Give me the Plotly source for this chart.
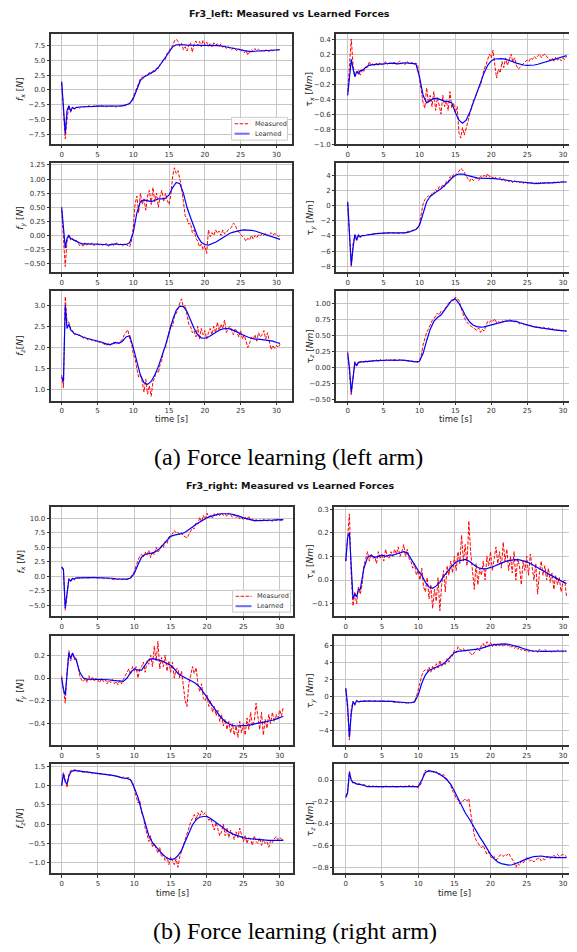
import numpy as np
import plotly.graph_objects as go

# The page body has an 8px default margin, so the figure is sized to the visible area
OFF = 8
W, H = 577 - OFF, 952 - OFF


def px_x(p):
    return (p - OFF) / W


def px_y(p):
    return 1 - (p - OFF) / H


# time grids (s)
t_meas = np.round(np.arange(0, 30.5001, 0.25), 2)
t_learn = np.round(np.concatenate([np.arange(0, 2.0001, 0.25), np.arange(2.5, 30.5001, 0.5)]), 2)

# ---------------- Fr3_left ----------------
left_fx_meas = [
    1.2, -3.0, -8.3, -5.0, -2.7, -3.8, -2.9, -3.3, -3.0, -2.9, -3.1, -2.8,
    -2.9, -2.8, -2.9, -2.7, -2.8, -2.9, -2.7, -2.8, -2.7, -2.8, -2.6, -2.8,
    -2.7, -2.9, -2.7, -2.8, -2.8, -2.7, -2.9, -2.8, -2.8, -2.7, -2.6, -2.7,
    -2.5, -2.4, -2.3, -2.0, -1.2, -0.2, 0.6, 1.2, 1.9, 2.2, 2.0, 2.5,
    2.4, 3.0, 2.7, 3.4, 3.1, 3.7, 3.6, 4.3, 4.6, 5.3, 5.2, 6.3,
    6.6, 7.2, 7.4, 8.3, 8.6, 8.2, 7.4, 7.9, 6.8, 7.3, 6.6, 7.6,
    8.0, 6.4, 7.8, 8.3, 7.5, 8.2, 7.3, 8.4, 7.7, 8.1, 7.4, 7.9,
    7.3, 8.0, 7.6, 7.8, 7.4, 7.8, 7.2, 7.5, 7.0, 7.3, 7.1, 6.8,
    7.2, 6.9, 6.6, 7.0, 6.5, 6.8, 6.3, 6.7, 5.9, 6.4, 6.8, 6.5,
    7.0, 6.6, 6.9, 6.5, 6.7, 6.4, 6.8, 6.6, 6.5, 6.9, 6.6, 6.8,
    6.7, 6.8, 6.8]
left_fx_learn = [
    1.4, -2.5, -7.4, -3.5, -2.7, -3.6, -3.0, -3.2, -3.0,
    -2.9, -2.9, -2.85, -2.8, -2.8, -2.75, -2.75, -2.75, -2.8, -2.8,
    -2.8, -2.8, -2.7, -2.55, -2.3, -1.5, 0.2, 1.6, 2.2, 2.5,
    2.8, 3.2, 3.8, 4.7, 5.7, 6.6, 7.3, 7.65, 7.7, 7.65,
    7.6, 7.6, 7.55, 7.55, 7.6, 7.6, 7.6, 7.6, 7.6, 7.5,
    7.4, 7.3, 7.2, 7.05, 6.9, 6.8, 6.65, 6.55, 6.5, 6.55,
    6.6, 6.65, 6.7, 6.7, 6.75, 6.75, 6.8]

left_tx_meas = [
    -0.3, 0.1, 0.4, 0.05, -0.1, -0.05, -0.02, -0.08, 0.0, -0.03, 0.03, 0.02,
    0.1, 0.05, 0.07, 0.04, 0.08, 0.05, 0.09, 0.06, 0.07, 0.1, 0.06, 0.08,
    0.09, 0.07, 0.1, 0.06, 0.08, 0.11, 0.07, 0.09, 0.06, 0.1, 0.08, 0.07,
    0.09, 0.06, 0.08, 0.05, -0.12, -0.3, -0.45, -0.52, -0.25, -0.45, -0.35, -0.5,
    -0.3, -0.55, -0.38, -0.48, -0.6, -0.35, -0.5, -0.42, -0.55, -0.3, -0.52, -0.45,
    -0.58, -0.5, -0.85, -0.92, -0.78, -0.88, -0.8, -0.7, -0.6, -0.5, -0.42, -0.38,
    -0.3, -0.25, -0.22, -0.1, 0.0, 0.05, 0.12, 0.2, 0.15, 0.25, 0.05, -0.12,
    0.0, -0.05, 0.1, 0.02, 0.15, 0.05, 0.12, 0.2, 0.1, 0.15, 0.05, 0.0,
    0.02, 0.05, 0.08, 0.1, 0.12, 0.1, 0.15, 0.13, 0.17, 0.14, 0.18, 0.2,
    0.15, 0.19, 0.2, 0.16, 0.13, 0.12, 0.15, 0.1, 0.16, 0.12, 0.14, 0.11,
    0.15, 0.13, 0.17]
left_tx_learn = [
    -0.35, -0.1, 0.13, 0.0, -0.1, -0.03, -0.06, -0.02, -0.02,
    0.02, 0.05, 0.06, 0.06, 0.065, 0.07, 0.075, 0.08, 0.08, 0.07,
    0.08, 0.085, 0.08, 0.08, 0.07, -0.1, -0.35, -0.45, -0.42, -0.39,
    -0.39, -0.41, -0.43, -0.43, -0.45, -0.58, -0.68, -0.72, -0.68, -0.58,
    -0.45, -0.32, -0.18, -0.05, 0.05, 0.11, 0.135, 0.14, 0.14, 0.13,
    0.12, 0.1, 0.08, 0.065, 0.055, 0.05, 0.05, 0.055, 0.065, 0.08,
    0.095, 0.11, 0.125, 0.14, 0.155, 0.17, 0.18]

left_fy_meas = [
    0.45, -0.1, -0.55, -0.1, 0.0, -0.08, -0.05, -0.1, -0.08, -0.12, -0.18, -0.14,
    -0.2, -0.13, -0.17, -0.14, -0.16, -0.13, -0.18, -0.15, -0.14, -0.17, -0.15, -0.18,
    -0.16, -0.14, -0.19, -0.17, -0.14, -0.18, -0.15, -0.13, -0.17, -0.15, -0.19, -0.14,
    -0.16, -0.18, -0.2, -0.1, 0.15, 0.55, 0.7, 0.4, 0.75, 0.55, 0.65, 0.45,
    0.7, 0.8, 0.55, 0.85, 0.6, 0.75, 0.5, 0.7, 0.8, 0.6, 0.75, 0.62,
    0.55, 0.72, 1.05, 1.2, 1.1, 1.15, 1.0, 0.85, 0.6, 0.35, 0.3, 0.2,
    0.22, 0.05, 0.1, -0.05, -0.1, -0.2, -0.15, -0.25, -0.18, -0.32, 0.1, -0.02,
    0.05, 0.0, 0.1, 0.04, 0.08, 0.0, 0.1, 0.03, 0.05, 0.1, 0.12, 0.15,
    0.22, 0.18, 0.1, 0.05, 0.02, -0.02, -0.05, -0.1, -0.05, -0.08, 0.0, -0.06,
    0.0, -0.04, 0.02, 0.0, 0.03, 0.0, 0.04, -0.01, 0.02, 0.05, 0.01, 0.03,
    0.02, -0.02, 0.0]
left_fy_learn = [
    0.5, 0.1, -0.22, -0.05, 0.0, -0.05, -0.07, -0.08, -0.1,
    -0.13, -0.15, -0.15, -0.15, -0.15, -0.15, -0.15, -0.16, -0.17, -0.16,
    -0.15, -0.16, -0.16, -0.16, -0.13, 0.05, 0.4, 0.6, 0.63, 0.62,
    0.6, 0.62, 0.65, 0.65, 0.66, 0.72, 0.85, 0.94, 0.92, 0.75,
    0.5, 0.32, 0.15, -0.02, -0.12, -0.16, -0.17, -0.15, -0.12, -0.08,
    -0.04, 0.0, 0.04, 0.06, 0.08, 0.09, 0.1, 0.1, 0.09, 0.08,
    0.06, 0.04, 0.02, 0.0, -0.03, -0.05, -0.07]

left_ty_meas = [
    0.3, -4.0, -8.1, -5.0, -3.9, -4.6, -3.8, -4.2, -3.9, -4.0, -3.85, -3.8,
    -3.8, -3.75, -3.8, -3.7, -3.7, -3.65, -3.7, -3.6, -3.6, -3.65, -3.6, -3.55,
    -3.6, -3.55, -3.65, -3.6, -3.6, -3.65, -3.55, -3.6, -3.55, -3.5, -3.4, -3.3,
    -3.3, -3.2, -3.1, -3.0, -2.4, -1.2, 0.2, 0.8, 1.0, 1.3, 1.1, 1.7,
    1.6, 2.1, 1.9, 2.5, 2.3, 2.8, 2.5, 3.2, 3.0, 3.8, 3.6, 4.1,
    3.9, 4.3, 4.5, 4.9, 4.7, 4.4, 3.9, 3.5, 3.2, 3.6, 3.3, 3.5,
    3.7, 3.3, 3.9, 3.6, 4.0, 3.7, 4.2, 3.8, 3.9, 3.6, 3.8, 3.5,
    3.4, 3.7, 3.3, 3.6, 3.2, 3.4, 3.1, 3.3, 3.0, 3.3, 3.1, 3.2,
    3.0, 3.2, 2.9, 3.1, 3.0, 2.85, 3.0, 2.9, 2.8, 2.95, 3.1, 2.9,
    3.1, 2.95, 3.0, 3.05, 2.95, 3.05, 3.0, 3.1, 3.0, 3.1, 3.0, 3.15,
    3.1, 3.05, 3.1]
left_ty_learn = [
    0.5, -3.5, -7.8, -5.5, -3.8, -4.5, -3.9, -4.1, -3.95,
    -3.9, -3.8, -3.75, -3.7, -3.65, -3.6, -3.6, -3.6, -3.6, -3.6,
    -3.6, -3.6, -3.5, -3.35, -3.15, -2.6, -1.0, 0.5, 1.2, 1.6,
    1.9, 2.2, 2.6, 3.1, 3.6, 4.0, 4.15, 4.15, 4.0, 3.85,
    3.7, 3.65, 3.6, 3.6, 3.6, 3.6, 3.55, 3.5, 3.45, 3.4,
    3.3, 3.2, 3.15, 3.1, 3.05, 3.0, 2.95, 2.9, 2.9, 2.95,
    3.0, 3.0, 3.0, 3.05, 3.05, 3.1, 3.1]

left_fz_meas = [
    1.35, 1.05, 3.2, 2.6, 2.6, 2.45, 2.4, 2.3, 2.32, 2.28, 2.3, 2.25,
    2.22, 2.25, 2.2, 2.18, 2.2, 2.16, 2.18, 2.14, 2.15, 2.12, 2.14, 2.1,
    2.08, 2.05, 2.1, 2.05, 2.1, 2.13, 2.08, 2.12, 2.1, 2.15, 2.2, 2.3,
    2.35, 2.42, 2.2, 2.1, 1.85, 1.75, 1.5, 1.3, 1.35, 1.2, 0.95, 1.25,
    0.9, 1.1, 0.85, 1.2, 1.3, 1.45, 1.4, 1.6, 1.7, 1.95, 2.0, 2.2,
    2.4, 2.55, 2.5, 2.75, 2.8, 2.95, 3.05, 3.15, 2.95, 3.0, 2.8, 2.55,
    2.5, 2.35, 2.4, 2.25, 2.5, 2.2, 2.45, 2.3, 2.4, 2.2, 2.35, 2.45,
    2.3, 2.5, 2.35, 2.6, 2.4, 2.55, 2.45, 2.65, 2.35, 2.45, 2.5, 2.4,
    2.3, 2.45, 2.35, 2.25, 2.4, 2.2, 2.3, 2.15, 2.0, 2.1, 2.25, 2.2,
    2.3, 2.15, 2.35, 2.25, 2.3, 2.4, 2.2, 2.35, 2.1, 1.95, 2.05, 1.98,
    2.05, 2.0, 2.08]
left_fz_learn = [
    1.3, 1.2, 3.0, 2.45, 2.55, 2.42, 2.38, 2.33, 2.32,
    2.28, 2.25, 2.22, 2.2, 2.17, 2.15, 2.13, 2.1, 2.07, 2.08,
    2.12, 2.1, 2.15, 2.25, 2.28, 2.0, 1.65, 1.35, 1.17, 1.13,
    1.2, 1.35, 1.55, 1.78, 2.05, 2.35, 2.65, 2.88, 2.98, 2.97,
    2.85, 2.65, 2.45, 2.3, 2.23, 2.22, 2.25, 2.3, 2.36, 2.41,
    2.44, 2.45, 2.44, 2.41, 2.37, 2.32, 2.28, 2.25, 2.22, 2.2,
    2.2, 2.19, 2.18, 2.17, 2.15, 2.12, 2.1]

left_tz_meas = [
    0.25, -0.05, -0.43, -0.15, 0.1, 0.02, 0.1, 0.08, 0.1, 0.08, 0.11, 0.09,
    0.1, 0.12, 0.1, 0.11, 0.12, 0.1, 0.13, 0.11, 0.12, 0.11, 0.13, 0.11,
    0.12, 0.11, 0.13, 0.12, 0.11, 0.13, 0.12, 0.11, 0.12, 0.11, 0.1, 0.11,
    0.1, 0.09, 0.1, 0.08, 0.1, 0.2, 0.35, 0.45, 0.55, 0.6, 0.68, 0.73,
    0.76, 0.8, 0.85, 0.82, 0.88, 0.86, 0.92, 0.95, 1.0, 1.02, 1.05, 1.04,
    1.1, 1.07, 1.05, 0.95, 0.85, 0.78, 0.72, 0.68, 0.66, 0.64, 0.62, 0.6,
    0.58, 0.62, 0.55, 0.6, 0.57, 0.65, 0.72, 0.7, 0.74, 0.72, 0.76, 0.7,
    0.72, 0.7, 0.73, 0.71, 0.74, 0.72, 0.75, 0.73, 0.74, 0.71, 0.72, 0.7,
    0.68, 0.7, 0.67, 0.66, 0.67, 0.65, 0.66, 0.64, 0.63, 0.64, 0.62, 0.63,
    0.61, 0.63, 0.61, 0.6, 0.62, 0.6, 0.61, 0.59, 0.6, 0.58, 0.59, 0.57,
    0.58, 0.57, 0.57]
left_tz_learn = [
    0.22, 0.0, -0.38, -0.1, 0.08, 0.03, 0.08, 0.09, 0.09,
    0.1, 0.1, 0.105, 0.11, 0.11, 0.11, 0.115, 0.12, 0.115, 0.12,
    0.12, 0.115, 0.11, 0.105, 0.09, 0.1, 0.22, 0.42, 0.6, 0.72,
    0.78, 0.82, 0.9, 0.98, 1.05, 1.07, 1.0, 0.9, 0.79, 0.71,
    0.66, 0.64, 0.63, 0.635, 0.65, 0.665, 0.685, 0.7, 0.715, 0.725,
    0.73, 0.73, 0.72, 0.7, 0.68, 0.665, 0.65, 0.635, 0.625, 0.615,
    0.605, 0.6, 0.595, 0.585, 0.58, 0.575, 0.57]

# ---------------- Fr3_right ----------------
right_fx_meas = [
    1.5, 1.0, -5.9, -2.5, -0.4, -1.0, -0.3, -0.6, -0.2, -0.35, -0.3, -0.25,
    -0.3, -0.2, -0.3, -0.25, -0.3, -0.25, -0.2, -0.3, -0.25, -0.3, -0.25, -0.35,
    -0.3, -0.35, -0.4, -0.45, -0.5, -0.6, -0.5, -0.55, -0.45, -0.6, -0.5, -0.55,
    -0.6, -0.4, -0.2, 0.3, 0.8, 1.8, 2.8, 3.5, 3.8, 3.3, 4.2, 3.6,
    4.5, 3.2, 4.3, 3.7, 5.0, 4.2, 4.6, 5.3, 5.0, 6.0, 5.6, 6.8,
    7.0, 7.3, 7.9, 7.5, 7.6, 7.2, 7.5, 7.0, 6.8, 6.6, 7.2, 7.8,
    8.4, 8.2, 9.3, 9.0, 10.2, 9.4, 10.5, 9.8, 10.9, 10.2, 10.6, 10.1,
    10.8, 10.4, 10.9, 10.5, 11.0, 10.5, 10.8, 10.3, 10.9, 10.6, 10.2, 10.7,
    10.1, 10.5, 9.9, 10.3, 9.7, 10.2, 9.8, 10.4, 9.6, 9.9, 9.5, 9.8,
    9.6, 9.7, 9.5, 9.8, 9.6, 9.5, 9.8, 9.6, 9.5, 9.8, 9.6, 9.9,
    9.7, 9.6, 9.8]
right_fx_learn = [
    1.6, 1.2, -5.5, -3.0, -0.5, -0.8, -0.4, -0.5, -0.3,
    -0.3, -0.25, -0.25, -0.25, -0.25, -0.25, -0.25, -0.3, -0.3, -0.35,
    -0.45, -0.5, -0.5, -0.5, -0.3, 0.5, 2.0, 3.3, 3.8, 3.9,
    4.0, 4.3, 4.8, 5.5, 6.3, 6.9, 7.1, 7.2, 7.35, 7.6,
    8.0, 8.5, 9.0, 9.4, 9.8, 10.1, 10.35, 10.55, 10.7, 10.8,
    10.85, 10.8, 10.7, 10.55, 10.35, 10.1, 9.9, 9.7, 9.6, 9.6,
    9.6, 9.65, 9.65, 9.7, 9.75, 9.8, 9.8]

right_tx_meas = [
    0.08, 0.2, 0.28, 0.02, -0.11, -0.05, -0.1, -0.03, -0.06, -0.02, 0.06, 0.09,
    0.12, 0.08, 0.11, 0.09, 0.1, 0.07, 0.12, 0.09, 0.11, 0.08, 0.13, 0.1,
    0.09, 0.12, 0.1, 0.13, 0.11, 0.14, 0.1, 0.12, 0.15, 0.1, 0.13, 0.09,
    0.08, 0.05, 0.07, 0.02, 0.04, 0.0, 0.05, -0.03, -0.05, 0.01, -0.08, -0.02,
    -0.12, -0.04, -0.09, 0.01, -0.13, -0.02, 0.04, -0.05, 0.06, 0.02, 0.08, 0.03,
    0.1, 0.04, 0.12, 0.07, 0.19, 0.08, 0.15, 0.06, 0.25, 0.12, 0.02, -0.04,
    0.07, -0.02, 0.05, 0.02, 0.08, 0.0, 0.1, 0.06, 0.12, 0.04, 0.09, 0.14,
    0.07, 0.12, 0.05, 0.16, 0.08, 0.13, 0.04, 0.1, 0.03, 0.12, 0.0, 0.09,
    0.06, -0.02, 0.08, 0.04, 0.1, 0.02, 0.11, 0.05, 0.0, 0.07, -0.06, 0.03,
    0.08, 0.02, 0.06, 0.0, 0.05, -0.01, 0.03, -0.04, 0.02, -0.02, 0.01, -0.05,
    -0.01, 0.0, -0.07]
right_tx_learn = [
    0.08, 0.18, 0.2, 0.05, -0.08, -0.06, -0.07, -0.04, -0.04,
    0.05, 0.095, 0.105, 0.095, 0.1, 0.105, 0.1, 0.105, 0.105, 0.11,
    0.115, 0.12, 0.115, 0.09, 0.06, 0.04, 0.02, -0.01, -0.03, -0.035,
    -0.025, -0.01, 0.015, 0.035, 0.055, 0.07, 0.08, 0.085, 0.087, 0.08,
    0.068, 0.057, 0.05, 0.047, 0.048, 0.052, 0.058, 0.065, 0.072, 0.078,
    0.082, 0.085, 0.086, 0.085, 0.082, 0.077, 0.07, 0.062, 0.053, 0.044,
    0.035, 0.026, 0.017, 0.008, 0.0, -0.008, -0.015]

right_fy_meas = [
    0.02, -0.1, -0.22, 0.05, 0.24, 0.15, 0.22, 0.16, 0.18, 0.1, 0.02, -0.02,
    -0.03, 0.0, -0.04, 0.02, -0.02, 0.01, -0.03, 0.0, -0.02, -0.04, 0.0, -0.03,
    -0.01, -0.05, -0.02, -0.04, -0.01, -0.05, -0.03, -0.06, -0.02, -0.05, -0.01, 0.02,
    0.05, 0.08, 0.03, 0.1, 0.06, 0.1, 0.0, 0.08, 0.1, 0.14, 0.05, 0.15,
    0.12, 0.2, 0.1, 0.28, 0.15, 0.32, 0.08, 0.18, 0.1, 0.2, 0.06, 0.15,
    0.05, 0.14, 0.0, 0.08, 0.08, 0.0, 0.06, -0.08, -0.2, -0.25, -0.05, 0.02,
    0.1, 0.04, 0.09, -0.05, -0.12, -0.05, -0.18, -0.2, -0.15, -0.25, -0.2, -0.3,
    -0.25, -0.33, -0.28, -0.38, -0.32, -0.42, -0.36, -0.45, -0.38, -0.48, -0.4, -0.5,
    -0.42, -0.52, -0.38, -0.48, -0.4, -0.5, -0.35, -0.45, -0.3, -0.42, -0.38, -0.22,
    -0.35, -0.45, -0.3, -0.5, -0.36, -0.44, -0.32, -0.4, -0.3, -0.38, -0.32, -0.36,
    -0.28, -0.33, -0.25]
right_fy_learn = [
    0.0, -0.1, -0.15, 0.05, 0.22, 0.17, 0.22, 0.18, 0.16,
    0.05, 0.0, -0.01, -0.01, -0.01, -0.01, -0.01, -0.015, -0.015, -0.02,
    -0.025, -0.03, -0.03, 0.0, 0.05, 0.08, 0.07, 0.07, 0.12, 0.16,
    0.17, 0.165, 0.155, 0.145, 0.13, 0.11, 0.08, 0.04, 0.02, 0.0,
    -0.015, -0.03, -0.05, -0.08, -0.12, -0.17, -0.22, -0.27, -0.31, -0.35,
    -0.38, -0.4, -0.415, -0.42, -0.42, -0.42, -0.415, -0.41, -0.4, -0.395,
    -0.39, -0.385, -0.38, -0.37, -0.36, -0.345, -0.335]

right_ty_meas = [
    1.0, -1.5, -5.1, -1.5, -0.5, -1.0, -0.4, -0.7, -0.5, -0.6, -0.45, -0.5,
    -0.55, -0.45, -0.5, -0.55, -0.5, -0.45, -0.55, -0.5, -0.45, -0.5, -0.55, -0.5,
    -0.5, -0.55, -0.6, -0.65, -0.7, -0.6, -0.75, -0.7, -0.65, -0.8, -0.7, -0.75,
    -0.7, -0.65, -0.5, 0.0, 0.8, 1.8, 2.5, 3.0, 3.2, 3.0, 3.5, 2.9,
    3.6, 3.2, 3.9, 3.4, 4.3, 3.6, 4.0, 3.8, 4.5, 4.1, 5.0, 4.8,
    5.5, 5.2, 5.9, 5.6, 5.5, 5.7, 5.3, 5.5, 5.4, 5.1, 4.9, 5.2,
    5.5, 5.8, 5.4, 6.1, 6.3, 5.8, 6.5, 6.0, 6.4, 5.9, 6.3, 6.0,
    6.2, 6.0, 6.3, 5.9, 6.2, 6.0, 6.1, 5.8, 6.0, 5.7, 5.9, 5.6,
    5.8, 5.5, 5.7, 5.4, 5.5, 5.3, 5.5, 5.4, 5.3, 5.5, 5.2, 5.6,
    5.5, 5.3, 5.6, 5.4, 5.3, 5.4, 5.2, 5.4, 5.3, 5.5, 5.3, 5.4,
    5.3, 5.4, 5.3]
right_ty_learn = [
    1.0, -1.0, -4.8, -2.0, -0.6, -0.9, -0.45, -0.6, -0.55,
    -0.5, -0.5, -0.5, -0.5, -0.5, -0.5, -0.5, -0.5, -0.55, -0.6,
    -0.65, -0.7, -0.7, -0.7, -0.6, 0.2, 1.6, 2.6, 3.1, 3.3,
    3.5, 3.65, 3.9, 4.3, 4.8, 5.2, 5.35, 5.4, 5.45, 5.5,
    5.5, 5.55, 5.65, 5.8, 5.95, 6.05, 6.15, 6.2, 6.25, 6.25,
    6.2, 6.1, 6.0, 5.85, 5.7, 5.55, 5.45, 5.4, 5.35, 5.35,
    5.35, 5.35, 5.35, 5.35, 5.35, 5.4, 5.4]

right_fz_meas = [
    1.0, 1.35, 1.15, 0.95, 1.3, 1.4, 1.38, 1.42, 1.4, 1.37, 1.39, 1.35,
    1.36, 1.34, 1.37, 1.33, 1.35, 1.32, 1.34, 1.31, 1.33, 1.3, 1.32, 1.29,
    1.3, 1.28, 1.27, 1.29, 1.26, 1.27, 1.24, 1.25, 1.22, 1.2, 1.23, 1.19,
    1.2, 1.22, 1.15, 1.1, 0.9, 0.75, 0.55, 0.62, 0.3, 0.2, -0.1, -0.25,
    -0.45, -0.3, -0.6, -0.5, -0.65, -0.75, -0.6, -0.85, -0.8, -0.95, -0.85, -1.05,
    -0.85, -0.95, -1.05, -0.9, -1.12, -0.85, -0.7, -0.5, -0.35, -0.25, -0.1, 0.05,
    0.15, 0.25, 0.1, 0.3, 0.2, 0.35, 0.25, 0.3, 0.2, 0.1, 0.15, 0.0,
    -0.15, 0.05, -0.1, -0.3, -0.2, 0.0, -0.3, -0.1, -0.35, -0.15, -0.25, -0.4,
    -0.2, -0.35, -0.1, -0.3, -0.45, -0.3, -0.5, -0.35, -0.4, -0.55, -0.3, -0.45,
    -0.5, -0.35, -0.55, -0.4, -0.5, -0.45, -0.6, -0.42, -0.48, -0.38, -0.32, -0.4,
    -0.35, -0.38, -0.42]
right_fz_learn = [
    1.0, 1.3, 1.1, 1.05, 1.25, 1.35, 1.38, 1.4, 1.39,
    1.38, 1.36, 1.35, 1.34, 1.33, 1.32, 1.31, 1.3, 1.28, 1.27,
    1.25, 1.22, 1.2, 1.19, 1.15, 0.95, 0.7, 0.35, 0.0, -0.3,
    -0.48, -0.6, -0.7, -0.8, -0.88, -0.92, -0.9, -0.82, -0.68, -0.45,
    -0.22, -0.02, 0.12, 0.18, 0.2, 0.2, 0.15, 0.08, 0.0, -0.07,
    -0.14, -0.2, -0.25, -0.29, -0.32, -0.35, -0.37, -0.38, -0.39, -0.4,
    -0.41, -0.41, -0.42, -0.42, -0.42, -0.42, -0.42]

right_tz_meas = [
    -0.15, -0.1, 0.08, 0.0, -0.03, -0.02, -0.04, -0.03, -0.04, -0.05, -0.04, -0.05,
    -0.06, -0.05, -0.06, -0.055, -0.06, -0.055, -0.065, -0.06, -0.06, -0.065, -0.055, -0.06,
    -0.065, -0.06, -0.055, -0.065, -0.06, -0.07, -0.055, -0.06, -0.065, -0.055, -0.06, -0.05,
    -0.06, -0.05, -0.065, -0.06, -0.07, -0.05, -0.02, 0.05, 0.09, 0.07, 0.085, 0.07,
    0.08, 0.06, 0.075, 0.05, 0.06, 0.04, 0.05, 0.02, 0.01, -0.02, -0.05, -0.1,
    -0.12, -0.17, -0.18, -0.22, -0.2, -0.18, -0.17, -0.19, -0.17, -0.3, -0.42, -0.5,
    -0.55, -0.58, -0.6, -0.62, -0.6, -0.64, -0.68, -0.66, -0.7, -0.72, -0.7, -0.73,
    -0.72, -0.69, -0.68, -0.7, -0.68, -0.69, -0.67, -0.7, -0.72, -0.75, -0.8, -0.76,
    -0.78, -0.74, -0.76, -0.73, -0.71, -0.72, -0.74, -0.73, -0.75, -0.73, -0.72, -0.71,
    -0.74, -0.72, -0.73, -0.7, -0.71, -0.72, -0.7, -0.69, -0.7, -0.68, -0.7, -0.69,
    -0.68, -0.69, -0.7]
right_tz_learn = [
    -0.16, -0.12, 0.07, 0.0, -0.02, -0.03, -0.035, -0.04, -0.04,
    -0.05, -0.06, -0.06, -0.06, -0.06, -0.06, -0.06, -0.06, -0.06, -0.06,
    -0.06, -0.06, -0.06, -0.06, -0.06, -0.06, 0.0, 0.07, 0.085, 0.08,
    0.07, 0.05, 0.03, 0.0, -0.04, -0.1, -0.17, -0.24, -0.3, -0.35,
    -0.41, -0.47, -0.52, -0.57, -0.63, -0.68, -0.72, -0.75, -0.765, -0.775,
    -0.778, -0.775, -0.765, -0.75, -0.735, -0.72, -0.71, -0.7, -0.695, -0.695,
    -0.7, -0.705, -0.708, -0.71, -0.71, -0.71, -0.71]

titles = ["Fr3_left: Measured vs Learned Forces", "Fr3_right: Measured vs Learned Forces"]
captions = ["(a) Force learning (left arm)", "(b) Force learning (right arm)"]
ylabels = ["<i>f</i><sub><i>x</i></sub> [<i>N</i>]", "τ<sub><i>x</i></sub> [<i>Nm</i>]",
           "<i>f</i><sub><i>y</i></sub> [<i>N</i>]", "τ<sub><i>y</i></sub> [<i>Nm</i>]",
           "<i>f</i><sub><i>z</i></sub>[<i>N</i>]", "τ<sub><i>z</i></sub> [<i>Nm</i>]"]
legend_names = ["Measured", "Learned"]

GRID = "#c6c6c6"
FRAME = "#333333"
MEAS_COLOR = "#ff0000"
LEARN_COLOR = "#0000ff"
MEAS_DASH = "3.5px,1.5px"
TICKF = dict(size=7, color="#333333", family="DejaVu Sans")

panels = [
    # fig, row, col, meas, learn, yrange, dtick, fmt
    (0, 0, 0, left_fx_meas, left_fx_learn, [-9.2, 9.5], 2.5, ".1f"),
    (0, 0, 1, left_tx_meas, left_tx_learn, [-1.0, 0.47], 0.2, ".1f"),
    (0, 1, 0, left_fy_meas, left_fy_learn, [-0.653, 1.285], 0.25, ".2f"),
    (0, 1, 1, left_ty_meas, left_ty_learn, [-8.78, 5.6], 2, "d"),
    (0, 2, 0, left_fz_meas, left_fz_learn, [0.75, 3.33], 0.5, ".1f"),
    (0, 2, 1, left_tz_meas, left_tz_learn, [-0.51, 1.19], 0.25, ".2f"),
    (1, 0, 0, right_fx_meas, right_fx_learn, [-6.9, 12.0], 2.5, ".1f"),
    (1, 0, 1, right_tx_meas, right_tx_learn, [-0.153, 0.31], 0.1, ".1f"),
    (1, 1, 0, right_fy_meas, right_fy_learn, [-0.589, 0.368], 0.2, ".1f"),
    (1, 1, 1, right_ty_meas, right_ty_learn, [-5.72, 7.17], 2, "d"),
    (1, 2, 0, right_fz_meas, right_fz_learn, [-1.28, 1.56], 0.5, ".1f"),
    (1, 2, 1, right_tz_meas, right_tz_learn, [-0.855, 0.145], 0.2, ".1f"),
]

# geometry in page pixels
rows_px = [[(32, 143), (162, 272), (291, 401)], [(508, 618), (638, 748), (767, 877)]]
cols_px = [[(51, 292), (337, 576)], [(51, 294), (335, 576)]]
xranges = [[[-1.5, 32.1], [-1.57, 31.67]], [[-1.47, 31.9], [-1.57, 31.67]]]
title_y = [12, 487]
caption_y = [458, 935]
caption_x = [289, 296]
time_y = [420, 897]
ylab_x = [21, 311]
# legend boxes: (x0, x1, y0, y1, line_x0, line_x1, text_x, row1_y, row2_y)
legend_box = [(232, 288, 116, 139, 235, 250, 253, 122.5, 132.5),
              (233, 291, 592, 614, 236, 252, 255, 598, 608)]

fig = go.Figure()
layout = {}
annotations = []
shapes = []

for k, (f, r, c, meas, learn, yr, dt, fmt) in enumerate(panels):
    assert len(meas) == len(t_meas), (k, len(meas))
    assert len(learn) == len(t_learn), (k, len(learn))
    n = k + 1
    xs = "" if n == 1 else str(n)
    x0, x1 = cols_px[f][c]
    y0, y1 = rows_px[f][r]
    fig.add_trace(go.Scatter(x=t_meas, y=meas, mode="lines", name=legend_names[0],
                             line=dict(color=MEAS_COLOR, width=1, dash=MEAS_DASH),
                             xaxis="x" + xs, yaxis="y" + xs, showlegend=False))
    fig.add_trace(go.Scatter(x=t_learn, y=learn, mode="lines", name=legend_names[1],
                             line=dict(color=LEARN_COLOR, width=1.2),
                             xaxis="x" + xs, yaxis="y" + xs, showlegend=False))
    common = dict(showgrid=True, gridcolor=GRID, gridwidth=1, zeroline=False,
                  showline=True, linecolor=FRAME, linewidth=1.5, mirror=True,
                  ticks="outside", ticklen=2.5, tickwidth=1, tickcolor=FRAME, tickfont=TICKF)
    layout["xaxis" + xs] = dict(domain=[px_x(x0), px_x(x1)], range=xranges[f][c], anchor="y" + xs,
                                tick0=0, dtick=5, **common)
    layout["yaxis" + xs] = dict(domain=[px_y(y1), px_y(y0)], range=yr, anchor="x" + xs,
                                tick0=0, dtick=dt, tickformat=fmt, **common)
    annotations.append(dict(text=ylabels[r * 2 + c], x=px_x(ylab_x[c]), y=px_y((y0 + y1) / 2),
                            xref="paper", yref="paper", showarrow=False, textangle=-90,
                            xanchor="center", yanchor="middle",
                            font=dict(size=9, color="#222222", family="DejaVu Sans")))
    if r == 2:
        annotations.append(dict(text="time [s]", x=px_x((x0 + x1) / 2), y=px_y(time_y[f]),
                                xref="paper", yref="paper", showarrow=False,
                                xanchor="center", yanchor="middle",
                                font=dict(size=8.5, color="#222222", family="DejaVu Sans")))

for f in range(2):
    annotations.append(dict(text="<b>" + titles[f] + "</b>", x=px_x(290), y=px_y(title_y[f]),
                            xref="paper", yref="paper", showarrow=False,
                            xanchor="center", yanchor="middle",
                            font=dict(size=9.5, color="#111111", family="DejaVu Sans")))
    annotations.append(dict(text=captions[f], x=px_x(caption_x[f]), y=px_y(caption_y[f]),
                            xref="paper", yref="paper", showarrow=False,
                            xanchor="center", yanchor="middle",
                            font=dict(size=24, color="#000000", family="Liberation Serif")))
    # compact legend in the first panel of each figure
    bx0, bx1, by0, by1, lx0, lx1, tx, ry1, ry2 = legend_box[f]
    shapes.append(dict(type="rect", xref="paper", yref="paper",
                       x0=px_x(bx0), x1=px_x(bx1), y0=px_y(by1), y1=px_y(by0),
                       line=dict(color="#cccccc", width=1), fillcolor="rgba(255,255,255,0.85)"))
    shapes.append(dict(type="line", xref="paper", yref="paper",
                       x0=px_x(lx0), x1=px_x(lx1), y0=px_y(ry1), y1=px_y(ry1),
                       line=dict(color=MEAS_COLOR, width=1, dash=MEAS_DASH)))
    shapes.append(dict(type="line", xref="paper", yref="paper",
                       x0=px_x(lx0), x1=px_x(lx1), y0=px_y(ry2), y1=px_y(ry2),
                       line=dict(color="rgba(60,60,255,0.75)", width=2)))
    for name, ry in zip(legend_names, (ry1, ry2)):
        annotations.append(dict(text=name, x=px_x(tx), y=px_y(ry), xref="paper", yref="paper",
                                showarrow=False, xanchor="left", yanchor="middle",
                                font=dict(size=6.5, color="#333333", family="DejaVu Sans")))

fig.update_layout(width=W, height=H, autosize=False, margin=dict(l=0, r=0, t=0, b=0),
                  paper_bgcolor="white", plot_bgcolor="white", showlegend=False,
                  font=dict(family="DejaVu Sans", size=7, color="#333333"),
                  annotations=annotations, shapes=shapes, **layout)

fig.write_html("out.html")
